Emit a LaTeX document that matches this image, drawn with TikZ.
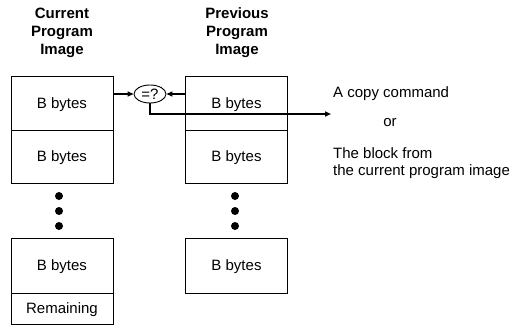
\documentclass[tikz,border=0pt]{standalone}
\usepackage{fontspec}
\setmainfont{Liberation Sans}
\usetikzlibrary{arrows.meta,shapes.geometric}
\begin{document}
\begin{tikzpicture}[x=1pt,y=-1pt,
  txt/.style={font=\fontsize{15}{17.5}\selectfont, inner sep=0pt},
  ttl/.style={font=\fontsize{15}{18}\selectfont\bfseries, align=center, inner sep=0pt},
  blk/.style={draw, line width=0.9pt, minimum width=102pt, inner sep=0pt, text depth=0pt, font=\fontsize{15}{17.5}\selectfont},
  arr/.style={line width=1.6pt, -{Triangle[length=6pt,width=5pt]}},
  dot/.style={circle, fill=black, minimum size=8pt, inner sep=0pt}]
\useasboundingbox (0,0) rectangle (514,329);
% titles
\node[ttl] (t1) at (62,32.5) {Current\\Program\\Image};
\node[ttl] (t2) at (237,32.5) {Previous\\Program\\Image};
% left column
\node[blk, minimum height=54pt] (c1) at (62,103) {B bytes};
\node[blk, minimum height=53pt] (c2) at (62,156.5) {B bytes};
\node[dot] (cd1) at (59,196) {};
\node[dot] (cd2) at (59,211) {};
\node[dot] (cd3) at (59,226) {};
\node[blk, minimum height=55pt] (c3) at (62,265.5) {B bytes};
\node[blk, minimum height=31pt] (c4) at (62,308.5) {Remaining};
% right column
\node[blk, minimum height=54pt] (p1) at (236.5,103) {B bytes};
\node[blk, minimum height=53pt] (p2) at (236.5,156.5) {B bytes};
\node[dot] (pd1) at (235,196) {};
\node[dot] (pd2) at (235,211) {};
\node[dot] (pd3) at (235,226) {};
\node[blk, minimum height=55pt] (p3) at (236.5,265.5) {B bytes};
% comparator
\node[draw, ellipse, line width=0.9pt, minimum width=32pt, minimum height=18pt, inner sep=0pt, font=\fontsize{15}{17.5}\selectfont] (cmp) at (150,94) {=?};
\draw[arr] (c1.east |- cmp) -- (cmp.west);
\draw[arr] (p1.west |- cmp) -- (cmp.east);
\coordinate (out) at (331,114);
\draw[arr] (cmp.south) |- (out);
% result texts
\node[txt, anchor=west, text depth=0pt] (r1) at (333,92) {A copy command};
\node[txt] (r2) at (390,123) {or};
\node[txt, anchor=north west, align=left] (r3) at (333,147) {The block from\\the current program image};
\end{tikzpicture}
\end{document}
